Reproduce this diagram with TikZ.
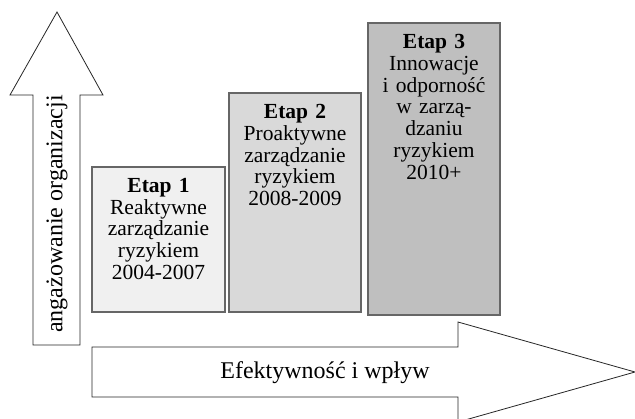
\documentclass[tikz,border=0pt]{standalone}
\usepackage{fontspec}
\setmainfont{Liberation Serif}
\usetikzlibrary{calc}

\begin{document}
\begin{tikzpicture}[x=1pt, y=-1pt,
  etap/.style={draw=black!60, line width=1.3pt},
  etaptext/.style={anchor=north, inner sep=0pt, align=center, text width=128pt,
    font=\fontsize{21.5}{21.8}\selectfont},
  bigarrow/.style={draw=black!85, line width=0.8pt, fill=white},
  arrowtext/.style={inner sep=0pt, font=\fontsize{24}{26}\selectfont}]
\useasboundingbox (0,0) rectangle (635,418);

% strzalka pionowa
\draw[bigarrow] (33,345) -- (33,95) -- (10,95) -- (57,12) -- (103,95) -- (80,95) -- (80,345) -- cycle;
\node[arrowtext, rotate=90] (zaang) at (57,214) {angażowanie organizacji};

% strzalka pozioma
\draw[bigarrow] (92,347) -- (458,347) -- (458,322) -- (635,372) -- (458,422) -- (458,397) -- (92,397) -- cycle;
\node[arrowtext] (efekt) at (325,373) {Efektywność i wpływ};

% etapy
\coordinate (e1) at (92,167);
\coordinate (e2) at (229,93);
\coordinate (e3) at (368,23);

\draw[etap, fill=black!6] (e1) rectangle (225,312);
\draw[etap, fill=black!15] (e2) rectangle (361,312);
\draw[etap, fill=black!25] (e3) rectangle (500,315);

\node[etaptext] (t1) at ($(e1)+(66.5,11)$) {\textbf{Etap 1}\\Reaktywne\\zarządzanie\\ryzykiem\\2004-2007};
\node[etaptext] (t2) at ($(e2)+(66,11)$) {\textbf{Etap 2}\\Proaktywne\\zarządzanie\\ryzykiem\\2008-2009};
\node[etaptext] (t3) at ($(e3)+(66,11)$) {\textbf{Etap 3}\\Innowacje\\i odporność\\w zarzą-\\dzaniu\\ryzykiem\\2010+};
\end{tikzpicture}
\end{document}
